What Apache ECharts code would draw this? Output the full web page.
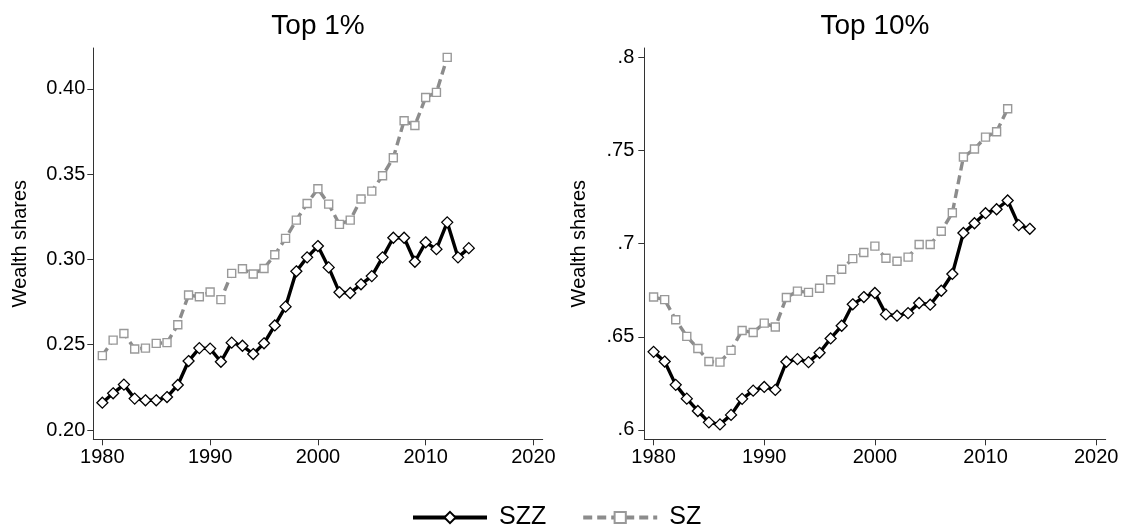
<!DOCTYPE html>
<html>
<head>
<meta charset="utf-8">
<script src="https://cdn.jsdelivr.net/npm/echarts@6/dist/echarts.min.js"></script>
<style>
  html, body { margin: 0; padding: 0; background: #fff; }
  #chart { width: 1122px; height: 529px; }
</style>
</head>
<body>
<div id="chart"></div>
<script>
// years 1980..2014 (SZ stops at 2012)
var years = [1980,1981,1982,1983,1984,1985,1986,1987,1988,1989,1990,1991,1992,1993,1994,1995,1996,1997,1998,1999,
  2000,2001,2002,2003,2004,2005,2006,2007,2008,2009,2010,2011,2012,2013,2014]

// Top 1% wealth share
var top1SZZ = [0.216,0.2215,0.2266,0.2184,0.2174,0.2174,0.2193,0.2264,0.2404,0.248,0.2477,0.240,0.2512,0.2494,0.2445,
  0.2508,0.2613,0.2723,0.293,0.3012,0.3078,0.2953,0.2807,0.2803,0.2854,0.2902,0.3012,0.3127,0.3127,0.2986,
  0.310,0.306,0.3217,0.3012,0.3066]
var top1SZ = [0.2436,0.2527,0.2566,0.2475,0.248,0.2508,0.2512,0.2617,0.2791,0.2781,0.2809,0.2764,0.2918,0.2945,0.2914,
  0.2947,0.3027,0.3123,0.323,0.3328,0.3414,0.3324,0.3205,0.323,0.3354,0.340,0.349,0.3596,0.3813,0.3785,
  0.3949,0.3979,0.4184]

// Top 10% wealth share
var top10SZZ = [0.6419,0.6367,0.6242,0.6168,0.6102,0.6041,0.603,0.6081,0.6167,0.6211,0.6231,0.6215,0.6366,0.638,0.6364,
  0.6414,0.6491,0.6559,0.6674,0.6713,0.6735,0.662,0.6613,0.6627,0.6681,0.6672,0.6747,0.6837,0.7057,0.7109,
  0.7163,0.7184,0.7231,0.7099,0.7079]
var top10SZ = [0.6713,0.6699,0.6591,0.6502,0.6437,0.6367,0.6364,0.6427,0.6534,0.6523,0.6573,0.6552,0.6711,0.6745,0.6738,
  0.676,0.6806,0.6862,0.6919,0.6952,0.6986,0.6921,0.6905,0.6927,0.6995,0.6995,0.7066,0.7165,0.7464,0.7507,
  0.7571,0.760,0.7723]

var xTicks = [1980,1990,2000,2010,2020]
var yTicks1 = [0.2,0.25,0.3,0.35,0.4]
var yTicks10 = [0.6,0.65,0.7,0.75,0.8]

var font = 'Liberation Sans, Arial, Helvetica, sans-serif'
var axisCol = '#333'

function pairs(vals) {
  var out = []
  for (var i = 0; i < vals.length; i++) out.push([years[i], vals[i]])
  return out
}

function xAxisCfg(idx) {
  return {
    type: 'value', gridIndex: idx, min: 1979.16, max: 2020.86,
    axisLine: { show: true, lineStyle: { color: axisCol, width: 1 } },
    axisTick: { show: true, length: 6, customValues: xTicks, lineStyle: { color: axisCol } },
    axisLabel: { customValues: xTicks, margin: 8, color: '#000', fontSize: 20, fontFamily: font,
      formatter: function (v) { return String(v) } },
    splitLine: { show: false }
  }
}

function yAxisCfg(idx, min, max, ticks, fmt, gap, lblMargin) {
  return {
    type: 'value', gridIndex: idx, min: min, max: max,
    name: 'Wealth shares', nameLocation: 'middle', nameGap: gap, nameRotate: 90,
    nameTextStyle: { color: '#000', fontSize: 20, fontFamily: font },
    axisLine: { show: true, lineStyle: { color: axisCol, width: 1 } },
    axisTick: { show: true, length: 6, customValues: ticks, lineStyle: { color: axisCol } },
    axisLabel: { customValues: ticks, margin: lblMargin, color: '#000', fontSize: 20, fontFamily: font, formatter: fmt },
    splitLine: { show: false }
  }
}

function szz(idx, vals) {
  return {
    name: 'SZZ', type: 'line', xAxisIndex: idx, yAxisIndex: idx, data: pairs(vals),
    symbol: 'diamond', symbolSize: [11, 11], showAllSymbol: true,
    lineStyle: { color: '#000', width: 3.4 },
    itemStyle: { color: '#fff', borderColor: '#000', borderWidth: 1.3 },
    z: 3
  }
}

function sz(idx, vals) {
  return {
    name: 'SZ', type: 'line', xAxisIndex: idx, yAxisIndex: idx, data: pairs(vals),
    symbol: 'rect', symbolSize: 8, showAllSymbol: true,
    lineStyle: { color: '#8c8c8c', width: 3.4, type: [9, 5] },
    itemStyle: { color: '#fff', borderColor: '#999', borderWidth: 1.4 },
    z: 2
  }
}

var chart = echarts.init(document.getElementById('chart'), null, { renderer: 'canvas' })
var options = {
  animation: false,
  backgroundColor: '#fff',
  title: [
    { text: 'Top 1%', left: 318, top: 12, textAlign: 'center', padding: 0,
      textStyle: { fontSize: 28, fontWeight: 'normal', color: '#000', fontFamily: font } },
    { text: 'Top 10%', left: 875, top: 12, textAlign: 'center', padding: 0,
      textStyle: { fontSize: 28, fontWeight: 'normal', color: '#000', fontFamily: font } }
  ],
  legend: {
    left: 411, top: 505, itemWidth: 74, itemHeight: 14, itemGap: 35, padding: 0,
    data: ['SZZ', 'SZ'],
    lineStyle: { width: 4 },
    textStyle: { fontSize: 25, color: '#000', fontFamily: font, padding: [0, 0, 0, 7] }
  },
  grid: [
    { left: 93.3, top: 48, width: 449.4, height: 391.3 },
    { left: 644.3, top: 48, width: 461.4, height: 391.3 }
  ],
  xAxis: [xAxisCfg(0), xAxisCfg(1)],
  yAxis: [
    yAxisCfg(0, 0.19455, 0.4239, yTicks1, function (v) { return v.toFixed(2) }, 63, 8),
    yAxisCfg(1, 0.595, 0.8049, yTicks10, function (v) { return String(v).replace(/^0/, '') }, 55, 10)
  ],
  series: [szz(0, top1SZZ), sz(0, top1SZ), szz(1, top10SZZ), sz(1, top10SZ)]
}
chart.setOption(options)
</script>
</body>
</html>
